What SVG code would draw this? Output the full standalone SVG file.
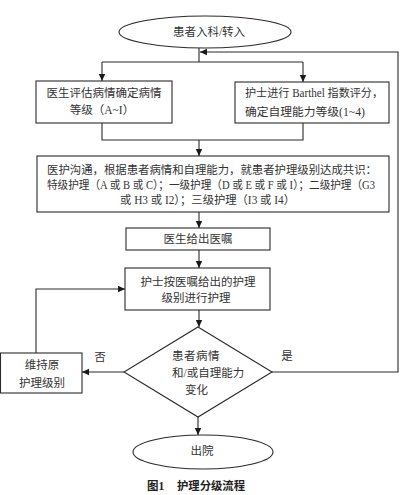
<svg xmlns="http://www.w3.org/2000/svg" width="418" height="495" viewBox="0 0 418 495">
<style>
  .shape { fill: #ffffff; stroke: #2a2a2a; stroke-width: 1.1; }
  .t { font-family: "Liberation Serif", "Noto Sans CJK SC", serif; font-size: 11.5px; fill: #333333; dominant-baseline: central; }
  .c { text-anchor: middle; }
  .line { fill: none; stroke: #2a2a2a; stroke-width: 1.1; }
  .cap { font-family: "Liberation Serif", "Noto Sans CJK SC", serif; font-size: 11.5px; font-weight: bold; fill: #222222; dominant-baseline: central; }
</style>
<defs>
  <marker id="arrow" markerWidth="8" markerHeight="8" refX="7" refY="4" orient="auto" markerUnits="userSpaceOnUse">
    <path d="M0,0.8 L7,4 L0,7.2 Z" fill="#1a1a1a"/>
  </marker>
</defs>
<rect width="418" height="495" fill="#ffffff"/>

<g id="connectors">
  <path class="line" d="M199,48 L199,62"/>
  <path class="line" d="M102,62 L303,62"/>
  <path class="line" d="M102,62 L102,81" marker-end="url(#arrow)"/>
  <path class="line" d="M303,62 L303,82" marker-end="url(#arrow)"/>
  <path class="line" d="M102,123 L102,140 L303,140 L303,123"/>
  <path class="line" d="M199,140 L199,156" marker-end="url(#arrow)"/>
  <path class="line" d="M199,212 L199,228" marker-end="url(#arrow)"/>
  <path class="line" d="M199,250 L199,268" marker-end="url(#arrow)"/>
  <path class="line" d="M199,310 L199,327" marker-end="url(#arrow)"/>
  <path class="line" d="M124,372 L82,372" marker-end="url(#arrow)"/>
  <path class="line" d="M36,353 L36,289 L125,289" marker-end="url(#arrow)"/>
  <path class="line" d="M272,372 L398,372 L398,52 L200,52" marker-end="url(#arrow)"/>
  <path class="line" d="M198,417 L198,435" marker-end="url(#arrow)"/>
  <text class="t c" x="100" y="357">否</text>
  <text class="t c" x="287" y="356">是</text>
</g>

<g id="start">
  <ellipse class="shape" cx="205" cy="32" rx="86" ry="16"/>
  <text class="t c" x="209" y="32">患者入科/转入</text>
</g>

<g id="doctor-assess">
  <rect class="shape" x="36" y="81" width="136" height="42"/>
  <text class="t c" x="104" y="93">医生评估病情确定病情</text>
  <text class="t c" x="102" y="110">等级（A~I）</text>
</g>

<g id="nurse-assess">
  <rect class="shape" x="235" y="82" width="154" height="41"/>
  <text class="t" x="245" y="93" textLength="138" lengthAdjust="spacingAndGlyphs">护士进行 Barthel 指数评分，</text>
  <text class="t" x="245" y="112" textLength="120" lengthAdjust="spacingAndGlyphs">确定自理能力等级(1~4)</text>
</g>

<g id="consensus">
  <rect class="shape" x="37" y="156" width="352" height="56"/>
  <text class="t" x="47" y="170" textLength="330" lengthAdjust="spacingAndGlyphs">医护沟通，根据患者病情和自理能力，就患者护理级别达成共识：</text>
  <text class="t" x="47" y="185" textLength="328" lengthAdjust="spacingAndGlyphs">特级护理（A 或 B 或 C）；一级护理（D 或 E 或 F 或 I）；二级护理（G3</text>
  <text class="t" x="120" y="200" textLength="175" lengthAdjust="spacingAndGlyphs">或 H3 或 I2）；三级护理（I3 或 I4）</text>
</g>

<g id="order">
  <rect class="shape" x="126" y="228" width="144" height="22"/>
  <text class="t c" x="198" y="239">医生给出医嘱</text>
</g>

<g id="nursing">
  <rect class="shape" x="125" y="268" width="145" height="42"/>
  <text class="t c" x="198" y="282">护士按医嘱给出的护理</text>
  <text class="t c" x="196" y="298">级别进行护理</text>
</g>

<g id="decision">
  <polygon class="shape" points="198,327 272,372 198,417 124,372"/>
  <text class="t" x="172" y="356" letter-spacing="0.5">患者病情</text>
  <text class="t" x="172" y="373">和/或自理能力</text>
  <text class="t" x="185" y="390">变化</text>
</g>

<g id="keep">
  <rect class="shape" x="0.5" y="353" width="81.5" height="40"/>
  <text class="t c" x="42" y="365">维持原</text>
  <text class="t c" x="42" y="383">护理级别</text>
</g>

<g id="end">
  <ellipse class="shape" cx="203" cy="452" rx="70" ry="17"/>
  <text class="t c" x="202" y="451">出院</text>
</g>

<g id="caption">
  <text class="cap" x="147" y="486">图1</text>
  <text class="cap" x="177" y="486" textLength="68" lengthAdjust="spacingAndGlyphs">护理分级流程</text>
</g>
</svg>
